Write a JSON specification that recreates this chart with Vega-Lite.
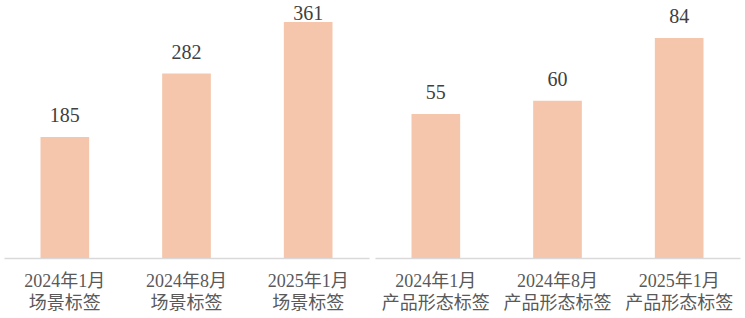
{
  "$schema": "https://vega.github.io/schema/vega-lite/v6.json",
  "background": "white",
  "padding": {"left": 4, "top": 0, "right": 5, "bottom": 0},
  "spacing": 6,
  "bounds": "flush",
  "config": {
    "view": {"stroke": null},
    "axisX": {
      "domainColor": "#D9D9D9",
      "domainWidth": 1.5,
      "ticks": false,
      "labelAngle": 0,
      "labelFont": "Liberation Serif, Noto Sans CJK SC",
      "labelFontSize": 18,
      "labelColor": "#595959",
      "labelPadding": 14,
      "labelLineHeight": 22,
      "labelLimit": 200,
      "title": null
    },
    "text": {
      "baseline": "alphabetic",
      "dy": -15,
      "font": "Liberation Serif",
      "fontSize": 20,
      "color": "#404040"
    }
  },
  "datasets": {
    "scene": [
      {"period": "2024年1月|场景标签", "count": 185},
      {"period": "2024年8月|场景标签", "count": 282},
      {"period": "2025年1月|场景标签", "count": 361}
    ],
    "form": [
      {"period": "2024年1月|产品形态标签", "count": 55},
      {"period": "2024年8月|产品形态标签", "count": 60},
      {"period": "2025年1月|产品形态标签", "count": 84}
    ]
  },
  "hconcat": [
    {
      "width": 365,
      "height": 258,
      "data": {"name": "scene"},
      "encoding": {
        "x": {
          "field": "period",
          "type": "nominal",
          "sort": null,
          "scale": {"paddingInner": 0.6, "paddingOuter": 0.3},
          "axis": {"labelExpr": "split(datum.label, '|')"}
        }
      },
      "layer": [
        {
          "mark": {"type": "bar", "color": "#F5C6AB"},
          "encoding": {
            "y": {
              "field": "count",
              "type": "quantitative",
              "scale": {"domain": [0, 394.5], "nice": false},
              "axis": null
            }
          }
        },
        {
          "transform": [
            {"calculate": "min(datum.count, 341)", "as": "labelAt"}
          ],
          "mark": {"type": "text"},
          "encoding": {
            "y": {"field": "labelAt", "type": "quantitative"},
            "text": {"field": "count", "type": "quantitative"}
          }
        }
      ]
    },
    {
      "width": 365,
      "height": 258,
      "data": {"name": "form"},
      "encoding": {
        "x": {
          "field": "period",
          "type": "nominal",
          "sort": null,
          "scale": {"paddingInner": 0.6, "paddingOuter": 0.3},
          "axis": {"labelExpr": "split(datum.label, '|')"}
        },
        "y": {
          "field": "count",
          "type": "quantitative",
          "scale": {"domain": [0, 98.5], "nice": false},
          "axis": null
        }
      },
      "layer": [
        {"mark": {"type": "bar", "color": "#F5C6AB"}},
        {
          "mark": {"type": "text"},
          "encoding": {"text": {"field": "count", "type": "quantitative"}}
        }
      ]
    }
  ]
}
